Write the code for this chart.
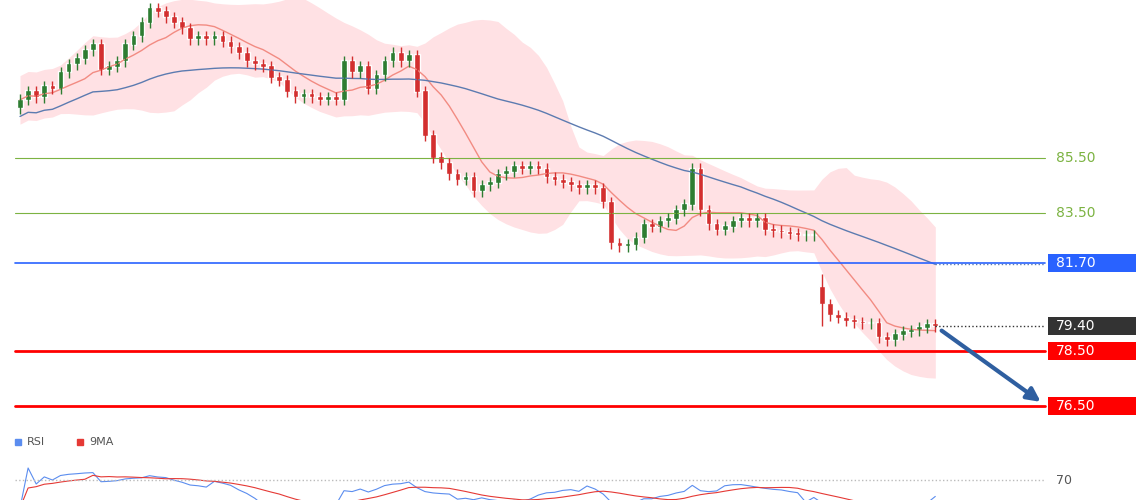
import numpy as np, pandas as pd, matplotlib
matplotlib.use("Agg")
import matplotlib.pyplot as plt, seaborn as sns
sns.set_style("white")
plt.rcParams['font.family']=['DejaVu Sans']

closes=[87.6,87.9,87.7,88.1,88.0,88.6,88.9,89.1,89.4,89.6,
88.7,88.8,89.0,89.6,89.9,90.4,90.9,90.8,90.6,90.4,
90.2,89.8,89.9,89.8,89.9,89.7,89.5,89.3,89.0,88.9,
88.8,88.4,88.3,87.9,87.7,87.8,87.7,87.6,87.7,87.6,
89.0,88.6,88.8,88.0,88.5,89.0,89.3,89.0,89.2,87.9,
86.3,85.5,85.3,84.9,84.7,84.8,84.3,84.5,84.6,84.9,
85.0,85.2,85.1,85.2,85.1,84.8,84.7,84.6,84.5,84.4,
84.5,84.4,83.9,82.4,82.3,82.35,82.6,83.1,83.0,83.2,
83.3,83.6,83.8,85.1,83.6,83.1,82.9,83.0,83.2,83.3,
83.2,83.3,82.9,82.85,82.8,82.75,82.7,82.7,82.7,80.2,
79.8,79.7,79.6,79.55,79.5,79.5,79.0,78.9,79.1,79.2,79.25,79.35,79.45,79.4]
first_open=87.3
gap_index=99
gap_open=80.8
levels=[85.50,83.50,81.70,78.50,76.50]
level_colors=['#7cb342','#7cb342','#2962ff','#ff0000','#ff0000']
level_widths=[0.8,0.8,1.2,2,2]
last_label=79.40

n=len(closes)
idx=np.arange(n)
c=np.array(closes); o=np.r_[first_open,c[:-1]]
o[gap_index]=gap_open
hi=np.maximum(o,c)+0.2; lo=np.minimum(o,c)-0.2
hi[gap_index]+=0.3; lo[gap_index]-=0.6
df=pd.DataFrame({'i':idx,'close':c})
s=df.close
ma=s.rolling(9,min_periods=1).mean()
mid=s.rolling(20,min_periods=1).mean(); sd=s.rolling(20,min_periods=2).std().fillna(0.4).clip(lower=0.4)
up=mid+1.7*sd+0.2; dn=mid-1.7*sd-0.2
ma50=s.rolling(50,min_periods=1).mean()-0.6
df['ma']=ma; df['ma50']=ma50

fig=plt.figure(figsize=(11.4,5),dpi=100)
ax=fig.add_axes([0,0.14,1,0.86])
ax.set_xlim(-20/8.1,1120/8.1); ax.set_ylim(75.64,91.22)
ax.fill_between(idx,dn,up,color='#ffcdd2',alpha=0.6,lw=0)
sns.lineplot(data=df,x='i',y='ma',ax=ax,color='#f28b82',lw=1)
sns.lineplot(data=df,x='i',y='ma50',ax=ax,color='#5c7bb0',lw=1)
for L,col,w in zip(levels,level_colors,level_widths):
    ax.axhline(L,xmin=15/1140,xmax=1045/1140,color=col,lw=w)
col=np.where(c>=o,'#2e7d32','#d32f2f')
ax.vlines(idx,lo,hi,color=col,lw=1)
ax.bar(idx,np.abs(c-o)+0.05,bottom=np.minimum(o,c),width=0.7,color=col)
xe=1045/8.1-20/8.1
ax.plot([idx[-1],xe],[last_label,last_label],':',color='#333',lw=1)
ax.plot([idx[-1],xe],[ma50.iloc[-1],ma50.iloc[-1]],':',color='#5c7bb0',lw=1)
ax.annotate('',xy=(1043/8.1-2.47,76.6),xytext=(idx[-1]+0.5,79.3),
            arrowprops=dict(arrowstyle='-|>',color='#2f5fa0',lw=3,mutation_scale=20))
lx=1048/8.1-2.47; rx=1136/8.1-2.47
def lab(v,fc,tc):
    ax.add_patch(plt.Rectangle((lx,v-0.33),rx-lx,0.66,color=fc,lw=0,clip_on=False))
    ax.text(lx+1,v,f'{v:.2f}',color=tc,va='center',fontsize=10)
for L,cc in zip(levels,level_colors):
    if cc=='#7cb342': ax.text(lx+1,L,f'{L:.2f}',color='#7cb342',va='center',fontsize=10)
    else: lab(L,cc,'white')
lab(last_label,'#333333','white')
ax.axis('off')

rsi_ax=fig.add_axes([0,0,1,0.14])
d=s.diff().fillna(0); g=d.clip(lower=0).rolling(14,min_periods=1).mean(); l=(-d.clip(upper=0)).rolling(14,min_periods=1).mean()
rsi=100-100/(1+g/(l+1e-6))
rdf=pd.DataFrame({'i':idx,'rsi':rsi,'rma':rsi.rolling(9,min_periods=1).mean()})
sns.lineplot(data=rdf,x='i',y='rsi',ax=rsi_ax,color='#5b8def',lw=0.8)
sns.lineplot(data=rdf,x='i',y='rma',ax=rsi_ax,color='#e53935',lw=0.8)
rsi_ax.set_xlim(ax.get_xlim()); rsi_ax.set_ylim(20,195)
rsi_ax.axhline(70,xmin=15/1140,xmax=1045/1140,color='#bbb',ls=':',lw=1)
rsi_ax.text(lx+1,70,'70',va='center',fontsize=9,color='#555')
T=rsi_ax.transAxes
rsi_ax.plot([0.016],[0.83],'s',color='#5b8def',ms=4,transform=T)
rsi_ax.text(0.024,0.83,'RSI',va='center',fontsize=8,color='#555',transform=T)
rsi_ax.plot([0.07],[0.83],'s',color='#e53935',ms=4,transform=T)
rsi_ax.text(0.078,0.83,'9MA',va='center',fontsize=8,color='#555',transform=T)
rsi_ax.axis('off')
fig.savefig('out.png',dpi=100)
